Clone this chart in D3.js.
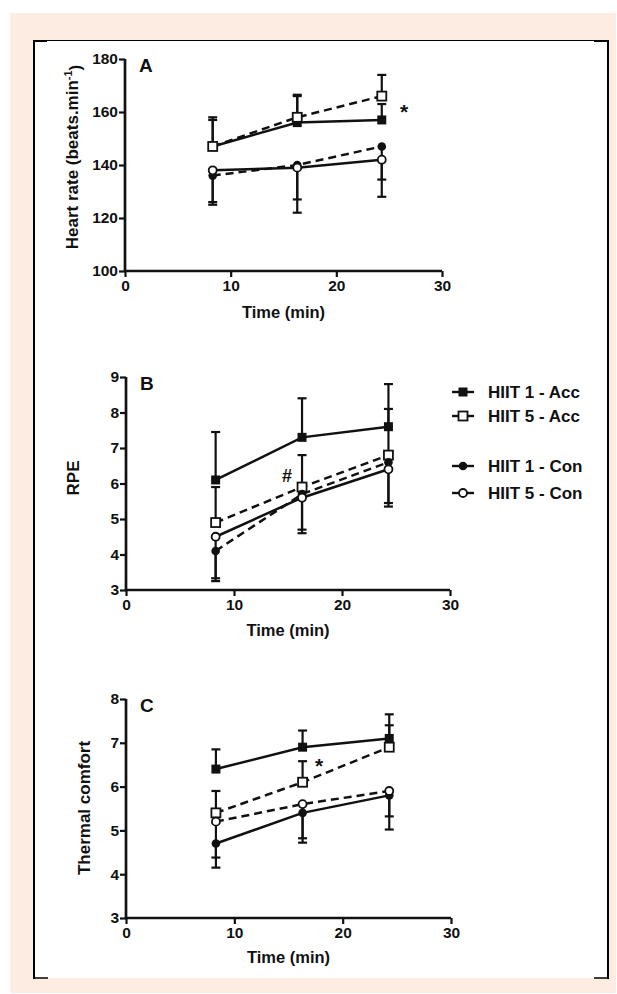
<!DOCTYPE html>
<html>
<head>
<meta charset="utf-8">
<script src="https://cdn.jsdelivr.net/npm/d3@7"></script>
<style>
  body { margin: 0; background: #fff; }
  svg { display: block; }
  text { font-family: "Liberation Sans", Arial, sans-serif; font-weight: bold; fill: #111; }
</style>
</head>
<body>
<svg width="617" height="994"></svg>
<script>
let width = 617, height = 994;

// sampling times (min)
const times = [8.3, 16.3, 24.3];
const xTicks = [0, 10, 20, 30];
const seriesNames = ["HIIT 1 - Acc", "HIIT 5 - Acc", "HIIT 1 - Con", "HIIT 5 - Con"];

// Heart rate
const hr_acc1 = [147, 156, 157], hr_acc1_sd = [11, 10.5, 6];
const hr_acc5 = [147, 158, 166], hr_acc5_sd = [10, 8, 8];
const hr_con1 = [136, 140, 147], hr_con1_sd = [11, 13, 12.5];
const hr_con5 = [138, 139, 142], hr_con5_sd = [12, 17, 14];
const hrTicks = [100, 120, 140, 160, 180];

// RPE
const rpe_acc1 = [6.1, 7.3, 7.6], rpe_acc1_sd = [1.35, 1.1, 1.2];
const rpe_acc5 = [4.9, 5.9, 6.8], rpe_acc5_sd = [1.0, 0.9, 1.3];
const rpe_con1 = [4.1, 5.7, 6.6], rpe_con1_sd = [0.85, 1.1, 1.25];
const rpe_con5 = [4.5, 5.6, 6.4], rpe_con5_sd = [1.17, 0.9, 0.95];
const rpeTicks = [3, 4, 5, 6, 7, 8, 9];

// Thermal comfort
const tc_acc1 = [6.4, 6.9, 7.1], tc_acc1_sd = [0.45, 0.38, 0.55];
const tc_acc5 = [5.4, 6.1, 6.9], tc_acc5_sd = [0.5, 0.48, 0.5];
const tc_con1 = [4.7, 5.4, 5.8], tc_con1_sd = [0.55, 0.68, 0.78];
const tc_con5 = [5.2, 5.6, 5.9], tc_con5_sd = [0.82, 0.78, 0.58];
const tcTicks = [3, 4, 5, 6, 7, 8];

let svg = d3.select("svg");

// page frame
svg.append("rect").attr("x", 10).attr("y", 13).attr("width", 606).attr("height", 980).attr("fill", "#fdece2");
svg.append("rect").attr("x", 33).attr("y", 40).attr("width", 575).attr("height", 938).attr("fill", "#fff");
let frame = svg.append("g").attr("stroke", "#000").attr("fill", "none");
frame.append("line").attr("x1", 33).attr("x2", 608).attr("y1", 40.5).attr("y2", 40.5).attr("stroke-width", 1);
frame.append("line").attr("x1", 33).attr("x2", 47).attr("y1", 41).attr("y2", 41).attr("stroke-width", 2);
frame.append("line").attr("x1", 594).attr("x2", 609).attr("y1", 41).attr("y2", 41).attr("stroke-width", 2);
frame.append("line").attr("x1", 34).attr("x2", 34).attr("y1", 40).attr("y2", 979).attr("stroke-width", 2);
frame.append("line").attr("x1", 608).attr("x2", 608).attr("y1", 40).attr("y2", 979).attr("stroke-width", 2);
frame.append("line").attr("x1", 33).attr("x2", 48).attr("y1", 978).attr("y2", 978).attr("stroke-width", 1.5);
frame.append("line").attr("x1", 594).attr("x2", 609).attr("y1", 978).attr("y2", 978).attr("stroke-width", 1.5);

const panels = [
  { label: "A", yDomain: [100, 180], ticks: hrTicks, left: 125, right: 442, top: 59, bottom: 271,
    yTitleX: 72, yTitleY: 157, titleY: 318, mark: { t: "*", x: 404, y: 119 },
    series: [
      { m: hr_acc1, e: hr_acc1_sd, up: true, dash: false, sym: "square", fill: true },
      { m: hr_acc5, e: hr_acc5_sd, up: true, dash: true, sym: "square", fill: false },
      { m: hr_con1, e: hr_con1_sd, up: false, dash: true, sym: "circle", fill: true },
      { m: hr_con5, e: hr_con5_sd, up: false, dash: false, sym: "circle", fill: false }] },
  { label: "B", yDomain: [3, 9], ticks: rpeTicks, left: 126, right: 450, top: 377, bottom: 590,
    yTitleX: 73, yTitleY: 478, titleY: 636, mark: { t: "#", x: 287, y: 482 },
    series: [
      { m: rpe_acc1, e: rpe_acc1_sd, up: true, dash: false, sym: "square", fill: true },
      { m: rpe_acc5, e: rpe_acc5_sd, up: true, dash: true, sym: "square", fill: false },
      { m: rpe_con1, e: rpe_con1_sd, up: false, dash: true, sym: "circle", fill: true },
      { m: rpe_con5, e: rpe_con5_sd, up: false, dash: false, sym: "circle", fill: false }] },
  { label: "C", yDomain: [3, 8], ticks: tcTicks, left: 126, right: 451, top: 699, bottom: 918,
    yTitleX: 84, yTitleY: 808, titleY: 963, mark: { t: "*", x: 319, y: 773 },
    series: [
      { m: tc_acc1, e: tc_acc1_sd, up: true, dash: false, sym: "square", fill: true },
      { m: tc_acc5, e: tc_acc5_sd, up: true, dash: true, sym: "square", fill: false },
      { m: tc_con1, e: tc_con1_sd, up: false, dash: false, sym: "circle", fill: true },
      { m: tc_con5, e: tc_con5_sd, up: false, dash: true, sym: "circle", fill: false }] }
];

function drawSymbol(g, sym, fill, cx, cy) {
  if (sym === "square") {
    g.append("rect").attr("x", cx - 4.5).attr("y", cy - 4.5).attr("width", 9).attr("height", 9)
      .attr("fill", fill ? "#111" : "#fff").attr("stroke", "#111").attr("stroke-width", fill ? 0 : 1.8);
  } else {
    g.append("circle").attr("cx", cx).attr("cy", cy).attr("r", fill ? 4.3 : 4)
      .attr("fill", fill ? "#111" : "#fff").attr("stroke", "#111").attr("stroke-width", fill ? 0 : 1.8);
  }
}

panels.forEach(p => {
  let x = d3.scaleLinear().domain([0, 30]).range([p.left, p.right]);
  let y = d3.scaleLinear().domain(p.yDomain).range([p.bottom, p.top]);
  let g = svg.append("g");

  // axes
  let xAxis = g.append("g").attr("transform", "translate(0," + p.bottom + ")")
    .call(d3.axisBottom(x).tickValues(xTicks).tickSize(6).tickPadding(3).tickFormat(d3.format("d")));
  let yAxis = g.append("g").attr("transform", "translate(" + p.left + ",0)")
    .call(d3.axisLeft(y).tickValues(p.ticks).tickSize(6).tickPadding(1).tickFormat(d3.format("d")));
  [xAxis, yAxis].forEach(a => {
    a.select(".domain").attr("stroke", "#111").attr("stroke-width", 2.7);
    a.selectAll(".tick line").attr("stroke", "#111").attr("stroke-width", 2.2);
    a.selectAll(".tick text").style("font-family", "'Liberation Sans', Arial, sans-serif")
      .style("font-weight", "bold").style("font-size", "15.5px").attr("fill", "#111");
  });
  xAxis.select(".domain").attr("d", "M" + p.left + ",0H" + p.right);
  yAxis.select(".domain").attr("d", "M0," + p.top + "V" + p.bottom);

  // error bars first
  p.series.forEach(s => {
    s.m.forEach((v, i) => {
      let end = s.up ? v + s.e[i] : v - s.e[i];
      g.append("line").attr("x1", x(times[i])).attr("x2", x(times[i]))
        .attr("y1", y(v)).attr("y2", y(end)).attr("stroke", "#111").attr("stroke-width", 2.2);
      g.append("line").attr("x1", x(times[i]) - 4.5).attr("x2", x(times[i]) + 4.5)
        .attr("y1", y(end)).attr("y2", y(end)).attr("stroke", "#111").attr("stroke-width", 2.2);
    });
  });

  // lines
  let line = d3.line().x((d, i) => x(times[i])).y(d => y(d));
  p.series.forEach(s => {
    g.append("path").attr("d", line(s.m)).attr("fill", "none").attr("stroke", "#111")
      .attr("stroke-width", 2.5).attr("stroke-dasharray", s.dash ? "8,5" : null);
  });

  // markers
  p.series.forEach(s => {
    s.m.forEach((v, i) => drawSymbol(g, s.sym, s.fill, x(times[i]), y(v)));
  });

  g.append("text").attr("x", p.left + 14).attr("y", p.top + 13).style("font-size", "19px").text(p.label);
  g.append("text").attr("x", p.mark.x).attr("y", p.mark.y).attr("text-anchor", "middle")
    .style("font-size", p.mark.t === "*" ? "21px" : "18px").text(p.mark.t);
  g.append("text").attr("x", (p.left + p.right) / 2).attr("y", p.titleY).attr("text-anchor", "middle")
    .style("font-size", "16.5px").text("Time (min)");

  let yt = g.append("text").attr("transform", "translate(" + p.yTitleX + "," + p.yTitleY + ") rotate(-90)")
    .attr("text-anchor", "middle").attr("dy", "0.35em").style("font-size", "17px");
  if (p.label === "A") {
    yt.append("tspan").text("Heart rate (beats.min");
    yt.append("tspan").attr("dy", "-0.5em").style("font-size", "11px").text("-1");
    yt.append("tspan").attr("dy", "0.5em").text(")");
  } else if (p.label === "B") {
    yt.text("RPE");
  } else {
    yt.text("Thermal comfort");
  }
});

// legend
const legendY = [392, 416, 466, 493];
const legendSym = [["square", true], ["square", false], ["circle", true], ["circle", false]];
let lg = svg.append("g");
seriesNames.forEach((name, i) => {
  lg.append("line").attr("x1", 452).attr("x2", 474).attr("y1", legendY[i]).attr("y2", legendY[i])
    .attr("stroke", "#111").attr("stroke-width", 2.4);
  drawSymbol(lg, legendSym[i][0], legendSym[i][1], 463, legendY[i]);
  lg.append("text").attr("x", 488).attr("y", legendY[i]).attr("dy", "0.36em")
    .style("font-size", "17px").text(name);
});
</script>
</body>
</html>
